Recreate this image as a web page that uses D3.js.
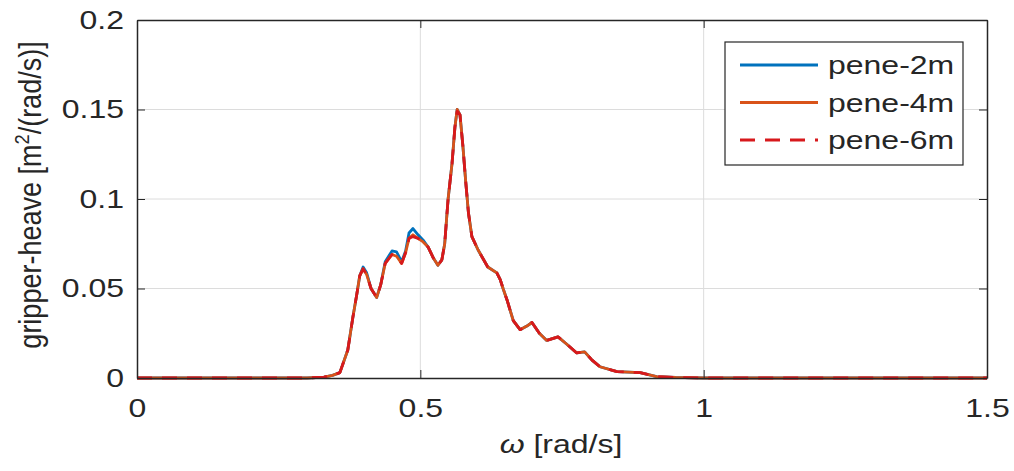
<!DOCTYPE html>
<html>
<head>
<meta charset="utf-8">
<script src="https://cdn.jsdelivr.net/npm/d3@7"></script>
<style>
  html, body { margin: 0; padding: 0; background: #fff; }
  svg { display: block; }
  text { font-family: "Liberation Sans", Arial, Helvetica, sans-serif; fill: #262626; }
</style>
</head>
<body>
<svg id="chart" width="1014" height="471"></svg>
<script>
// Frequency grid (rad/s) and heave response spectra for three penetration depths
const omega = [0, 0.30, 0.33, 0.345, 0.358, 0.372, 0.381, 0.388, 0.393, 0.399, 0.405, 0.413, 0.423, 0.430, 0.438,
  0.450, 0.458, 0.467, 0.474, 0.480, 0.487, 0.496, 0.505, 0.514, 0.523, 0.531, 0.538, 0.543, 0.549, 0.556,
  0.561, 0.565, 0.570, 0.575, 0.580, 0.585, 0.591, 0.602, 0.619, 0.635, 0.641, 0.646, 0.653, 0.664, 0.676,
  0.688, 0.697, 0.710, 0.723, 0.743, 0.758, 0.776, 0.790, 0.803, 0.817, 0.847, 0.888, 0.917, 0.95, 1.0, 1.5];

const pene2m = [0, 0, 0.0005, 0.0015, 0.003, 0.0156, 0.034, 0.047, 0.057, 0.062, 0.059, 0.050, 0.045, 0.052, 0.065,
  0.071, 0.0705, 0.065, 0.071, 0.081, 0.0835, 0.080, 0.077, 0.073, 0.067, 0.063, 0.066, 0.075, 0.100, 0.120,
  0.140, 0.150, 0.147, 0.130, 0.110, 0.092, 0.079, 0.0715, 0.062, 0.0587, 0.055, 0.050, 0.0436, 0.032, 0.027,
  0.029, 0.031, 0.025, 0.021, 0.023, 0.019, 0.014, 0.0146, 0.010, 0.0063, 0.0036, 0.003, 0.0008, 0.0003, 0, 0];

const pene4m = [0, 0, 0.0005, 0.0015, 0.003, 0.0156, 0.034, 0.047, 0.057, 0.061, 0.058, 0.050, 0.045, 0.052, 0.064,
  0.069, 0.068, 0.064, 0.070, 0.078, 0.080, 0.078, 0.076, 0.073, 0.067, 0.063, 0.066, 0.075, 0.100, 0.120,
  0.140, 0.150, 0.147, 0.130, 0.110, 0.092, 0.079, 0.0715, 0.062, 0.0587, 0.055, 0.050, 0.0436, 0.032, 0.027,
  0.029, 0.031, 0.025, 0.021, 0.023, 0.019, 0.014, 0.0146, 0.010, 0.0063, 0.0036, 0.003, 0.0008, 0.0003, 0, 0];

const pene6m = [0, 0, 0.0005, 0.0015, 0.003, 0.0156, 0.034, 0.047, 0.057, 0.061, 0.058, 0.050, 0.045, 0.052, 0.064,
  0.069, 0.068, 0.064, 0.070, 0.078, 0.079, 0.078, 0.076, 0.073, 0.067, 0.063, 0.066, 0.075, 0.100, 0.120,
  0.140, 0.149, 0.147, 0.130, 0.110, 0.092, 0.079, 0.0715, 0.062, 0.0587, 0.055, 0.050, 0.0436, 0.032, 0.027,
  0.029, 0.031, 0.025, 0.021, 0.023, 0.019, 0.014, 0.0146, 0.010, 0.0063, 0.0036, 0.003, 0.0008, 0.0003, 0, 0];

const seriesNames = ["pene-2m", "pene-4m", "pene-6m"];
const seriesValues = [pene2m, pene4m, pene6m];
const seriesColors = ["#0072BD", "#D95319", "#D7191C"];
const seriesDash = [null, null, "15,10"];

const xTicks = [0, 0.5, 1, 1.5];
const xTickLabels = ["0", "0.5", "1", "1.5"];
const yTicks = [0, 0.05, 0.1, 0.15, 0.2];
const yTickLabels = ["0", "0.05", "0.1", "0.15", "0.2"];

const FS = 25;       // font size
const SX = 1.28;     // horizontal glyph stretch of the exported figure

const svg = d3.select("#chart");
const m = { left: 137, right: 987, top: 20, bottom: 378 };

const x = d3.scaleLinear().domain([0, 1.5]).range([m.left, m.right]);
const y = d3.scaleLinear().domain([0, 0.2]).range([m.bottom, m.top]);

// grid
const grid = svg.append("g");
grid.selectAll(".gx").data(xTicks.slice(1, -1)).enter().append("line")
  .attr("x1", d => x(d)).attr("x2", d => x(d)).attr("y1", m.top).attr("y2", m.bottom)
  .attr("stroke", "#dcdcdc").attr("stroke-width", 1);
grid.selectAll(".gy").data(yTicks.slice(1, -1)).enter().append("line")
  .attr("y1", d => y(d)).attr("y2", d => y(d)).attr("x1", m.left).attr("x2", m.right)
  .attr("stroke", "#dcdcdc").attr("stroke-width", 1);

// curves
const line = d3.line().x(d => x(d[0])).y(d => y(d[1]));
seriesValues.forEach((vals, i) => {
  svg.append("path")
    .datum(omega.map((w, k) => [w, vals[k]]))
    .attr("d", line)
    .attr("fill", "none")
    .attr("stroke", seriesColors[i])
    .attr("stroke-width", 2.8)
    .attr("stroke-linejoin", "round")
    .attr("stroke-dasharray", seriesDash[i]);
});

// axes with inward ticks
const axB = svg.append("g").attr("transform", `translate(0,${m.bottom})`)
  .call(d3.axisBottom(x).tickValues(xTicks).tickFormat((d, i) => xTickLabels[i])
    .tickSizeInner(-8).tickSizeOuter(0).tickPadding(21));
const axL = svg.append("g").attr("transform", `translate(${m.left},0)`)
  .call(d3.axisLeft(y).tickValues(yTicks).tickFormat((d, i) => yTickLabels[i])
    .tickSizeInner(-8).tickSizeOuter(0).tickPadding(13));
const axT = svg.append("g").attr("transform", `translate(0,${m.top})`)
  .call(d3.axisTop(x).tickValues(xTicks).tickFormat("").tickSizeInner(-8).tickSizeOuter(0));
const axR = svg.append("g").attr("transform", `translate(${m.right},0)`)
  .call(d3.axisRight(y).tickValues(yTicks).tickFormat("").tickSizeInner(-8).tickSizeOuter(0));
[axB, axL, axT, axR].forEach(a => {
  a.select(".domain").attr("stroke", "#262626").attr("stroke-width", 1.5);
  a.selectAll(".tick line").attr("stroke", "#262626").attr("stroke-width", 1);
  a.selectAll("text").attr("font-size", FS).attr("fill", "#262626")
    .attr("font-family", "'Liberation Sans', Arial, sans-serif");
});
// stretch tick labels horizontally about their anchor
axB.selectAll(".tick text").attr("transform", `scale(${SX},1)`);
axL.selectAll(".tick text").each(function () {
  const t = d3.select(this);
  const xx = +t.attr("x");
  t.attr("x", xx / SX).attr("transform", `scale(${SX},1)`);
});

// axis titles
svg.append("g").attr("transform", `translate(${(m.left + m.right) / 2 - 1},453) scale(${SX},1)`)
  .append("text").attr("text-anchor", "middle").attr("font-size", FS)
  .html('<tspan font-style="italic">ω</tspan> [rad/s]');

const yl = svg.append("g")
  .attr("transform", `translate(41,${(m.top + m.bottom) / 2 - 4}) rotate(-90) scale(1.08,1.22)`)
  .append("text").attr("text-anchor", "middle").attr("font-size", FS);
yl.append("tspan").text("gripper-heave [m");
yl.append("tspan").attr("dy", -10).attr("font-size", 17).text("2");
yl.append("tspan").attr("dy", 10).text("/(rad/s)]");

// legend
const lg = svg.append("g");
lg.append("rect").attr("x", 725).attr("y", 42).attr("width", 238).attr("height", 123)
  .attr("fill", "#fff").attr("stroke", "#262626").attr("stroke-width", 1.2);
seriesNames.forEach((name, i) => {
  const yy = 65 + i * 37.5;
  lg.append("line").attr("x1", 740).attr("x2", 818).attr("y1", yy).attr("y2", yy)
    .attr("stroke", seriesColors[i]).attr("stroke-width", 2.8)
    .attr("stroke-dasharray", seriesDash[i]);
  lg.append("g").attr("transform", `translate(828,${yy + 9}) scale(${SX},1)`)
    .append("text").attr("font-size", FS).text(name);
});
</script>
</body>
</html>
